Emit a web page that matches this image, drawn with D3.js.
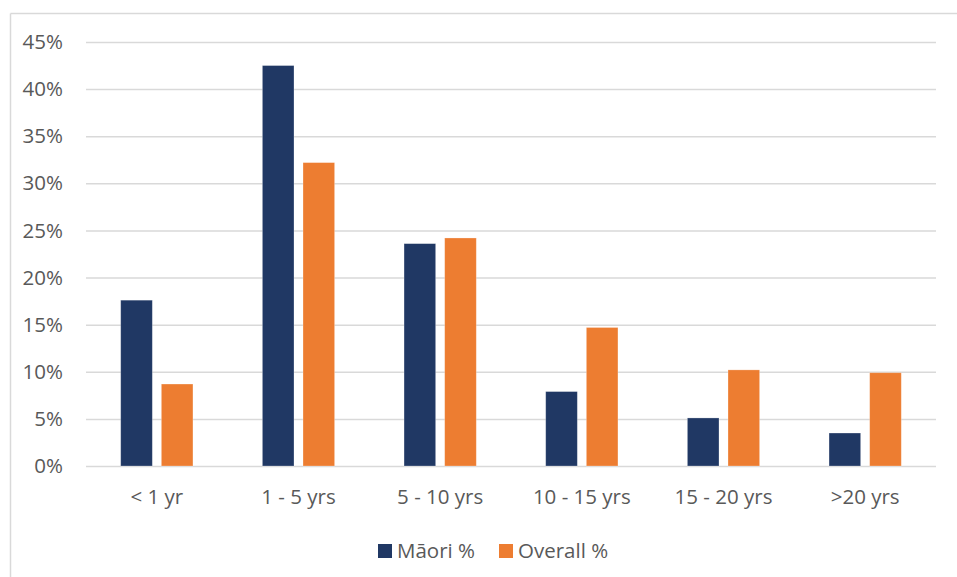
<!DOCTYPE html>
<html>
<head>
<meta charset="utf-8">
<script src="https://cdn.jsdelivr.net/npm/d3@7"></script>
<style>
  html, body { margin: 0; padding: 0; background: #fff; }
  svg { display: block; }
  text { font-family: "Open Sans", "Noto Sans", sans-serif; fill: #595959; }
</style>
</head>
<body>
<svg id="chart" width="957" height="577"></svg>
<script>
// Length of service groups
const categories = ["< 1 yr", "1 - 5 yrs", "5 - 10 yrs", "10 - 15 yrs", "15 - 20 yrs", ">20 yrs"];
const seriesNames = ["Māori %", "Overall %"];
const maoriValues = [17.6, 42.5, 23.6, 7.9, 5.1, 3.5];
const overallValues = [8.7, 32.2, 24.2, 14.7, 10.2, 9.9];
const yTicks = [0, 5, 10, 15, 20, 25, 30, 35, 40, 45];
const colors = ["#203864", "#ED7D31"];

const svg = d3.select("#chart");
const W = 957, H = 577;
const plot = { left: 86, right: 936, top: 42, bottom: 466 };
const FONT = "'Open Sans', sans-serif";
const FS = 20.5;

// outer frame (top and left edges visible)
svg.append("line").attr("x1", 10.5).attr("x2", W).attr("y1", 13.5).attr("y2", 13.5)
  .attr("stroke", "#d9d9d9").attr("stroke-width", 1.5);
svg.append("line").attr("x1", 10.5).attr("x2", 10.5).attr("y1", 13.5).attr("y2", H)
  .attr("stroke", "#d9d9d9").attr("stroke-width", 1.5);

const x0 = d3.scaleBand().domain(categories).range([plot.left, plot.right]).paddingInner(0.49).paddingOuter(0.245);
const x1 = d3.scaleBand().domain(seriesNames).range([0, x0.bandwidth()]).paddingInner(0.222);
const y = d3.scaleLinear().domain([0, 45]).range([plot.bottom, plot.top]);

// horizontal gridlines + tick labels
const yAxis = d3.axisLeft(y).tickValues(yTicks).tickFormat(d => d + "%")
  .tickSize(-(plot.right - plot.left)).tickPadding(23);
const gy = svg.append("g").attr("transform", `translate(${plot.left},0)`).call(yAxis);
gy.select(".domain").remove();
gy.selectAll(".tick line").attr("stroke", "#d9d9d9").attr("stroke-width", 1.5);
gy.selectAll(".tick text").attr("font-size", FS).style("fill", "#595959").style("font-family", FONT);

// category labels
const xAxis = d3.axisBottom(x0).tickSize(0).tickPadding(23);
const gx = svg.append("g").attr("transform", `translate(0,${plot.bottom})`).call(xAxis);
gx.select(".domain").remove();
gx.selectAll(".tick text").attr("font-size", FS).style("fill", "#595959").style("font-family", FONT);

// bars
const rows = categories.map((c, i) => ({ cat: c, vals: [maoriValues[i], overallValues[i]] }));
const groups = svg.append("g").selectAll("g").data(rows).join("g")
  .attr("transform", d => `translate(${x0(d.cat)},0)`);
groups.selectAll("rect").data(d => d.vals.map((v, j) => ({ name: seriesNames[j], v, j })))
  .join("rect")
  .attr("x", d => x1(d.name))
  .attr("width", x1.bandwidth())
  .attr("y", d => y(d.v))
  .attr("height", d => y(0) - y(d.v))
  .attr("fill", d => colors[d.j])
  .attr("stroke", "#ffffff").attr("stroke-opacity", 0.35).attr("stroke-width", 0.75);

// legend
const legendItems = [
  { name: seriesNames[0], color: colors[0], x: 378 },
  { name: seriesNames[1], color: colors[1], x: 499 }
];
const lg = svg.append("g");
legendItems.forEach(it => {
  lg.append("rect").attr("x", it.x).attr("y", 544).attr("width", 14).attr("height", 14).attr("fill", it.color);
  lg.append("text").attr("x", it.x + 19).attr("y", 558).attr("font-size", FS).style("font-family", FONT).text(it.name);
});
</script>
</body>
</html>
